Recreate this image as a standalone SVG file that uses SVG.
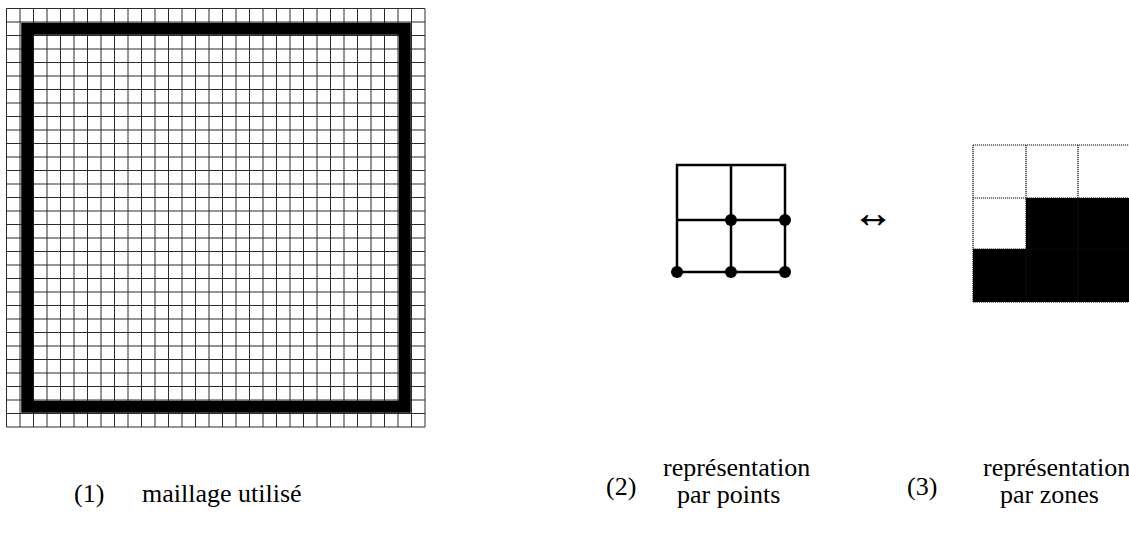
<svg xmlns="http://www.w3.org/2000/svg" width="1129" height="539" viewBox="0 0 1129 539">
  <style>
    text { font-family: 'Liberation Serif', 'DejaVu Serif', serif; fill: #000; }
    .lbl { font-size: 26px; }
    .arr { font-size: 40px; stroke: #000; stroke-width: 0.6; }
    .grid { stroke: #2a2a2a; stroke-width: 1; fill: none; }
    .thin { stroke: #111; stroke-width: 1.2; stroke-dasharray: 1.2 0.8; fill: none; }
    .bold { stroke: #000; stroke-width: 2.5; fill: none; }
  </style>
  <rect width="1129" height="539" fill="#fff"/>

  <g id="mesh">
    <path class="grid" d="M6.5 8.5v418.5 M20 8.5v418.5 M33.5 8.5v418.5 M47 8.5v418.5 M60.5 8.5v418.5 M74 8.5v418.5 M87.5 8.5v418.5 M101 8.5v418.5 M114.5 8.5v418.5 M128 8.5v418.5 M141.5 8.5v418.5 M155 8.5v418.5 M168.5 8.5v418.5 M182 8.5v418.5 M195.5 8.5v418.5 M209 8.5v418.5 M222.5 8.5v418.5 M236 8.5v418.5 M249.5 8.5v418.5 M263 8.5v418.5 M276.5 8.5v418.5 M290 8.5v418.5 M303.5 8.5v418.5 M317 8.5v418.5 M330.5 8.5v418.5 M344 8.5v418.5 M357.5 8.5v418.5 M371 8.5v418.5 M384.5 8.5v418.5 M398 8.5v418.5 M411.5 8.5v418.5 M425 8.5v418.5"/>
    <path class="grid" d="M6.5 8.5h418.5 M6.5 22h418.5 M6.5 35.5h418.5 M6.5 49h418.5 M6.5 62.5h418.5 M6.5 76h418.5 M6.5 89.5h418.5 M6.5 103h418.5 M6.5 116.5h418.5 M6.5 130h418.5 M6.5 143.5h418.5 M6.5 157h418.5 M6.5 170.5h418.5 M6.5 184h418.5 M6.5 197.5h418.5 M6.5 211h418.5 M6.5 224.5h418.5 M6.5 238h418.5 M6.5 251.5h418.5 M6.5 265h418.5 M6.5 278.5h418.5 M6.5 292h418.5 M6.5 305.5h418.5 M6.5 319h418.5 M6.5 332.5h418.5 M6.5 346h418.5 M6.5 359.5h418.5 M6.5 373h418.5 M6.5 386.5h418.5 M6.5 400h418.5 M6.5 413.5h418.5 M6.5 427h418.5"/>
    <rect x="27.25" y="28.75" width="377.5" height="378" fill="none" stroke="#000" stroke-width="12"/>
  </g>

  <g id="points">
    <rect class="bold" x="677" y="165" width="108" height="107"/>
    <path class="bold" d="M731 165V272 M677 220H785"/>
    <g fill="#000">
      <circle cx="731" cy="220" r="6"/>
      <circle cx="785" cy="220" r="6"/>
      <circle cx="677" cy="272" r="6"/>
      <circle cx="731" cy="272" r="6"/>
      <circle cx="785" cy="272" r="6"/>
    </g>
  </g>

  <g id="zones">
    <rect x="1026" y="198" width="105" height="51" fill="#000"/>
    <rect x="973" y="249" width="158" height="53" fill="#000"/>
    <path class="thin" d="M973 145H1131 M973 198H1131 M973 249H1131 M973 302H1131 M973 145V302 M1026 145V302 M1078 145V302"/>
  </g>

  <g id="connectors">
    <text class="arr" x="873" y="227" text-anchor="middle">↔</text>
  </g>

  <g id="labels">
    <text class="lbl" x="74" y="502">(1)</text>
    <text class="lbl" x="142" y="502">maillage utilisé</text>
    <text class="lbl" x="606" y="495">(2)</text>
    <text class="lbl" x="663" y="476">représentation</text>
    <text class="lbl" x="677" y="503">par points</text>
    <text class="lbl" x="907" y="495">(3)</text>
    <text class="lbl" x="983" y="476">représentation</text>
    <text class="lbl" x="1000" y="503">par zones</text>
  </g>
</svg>
